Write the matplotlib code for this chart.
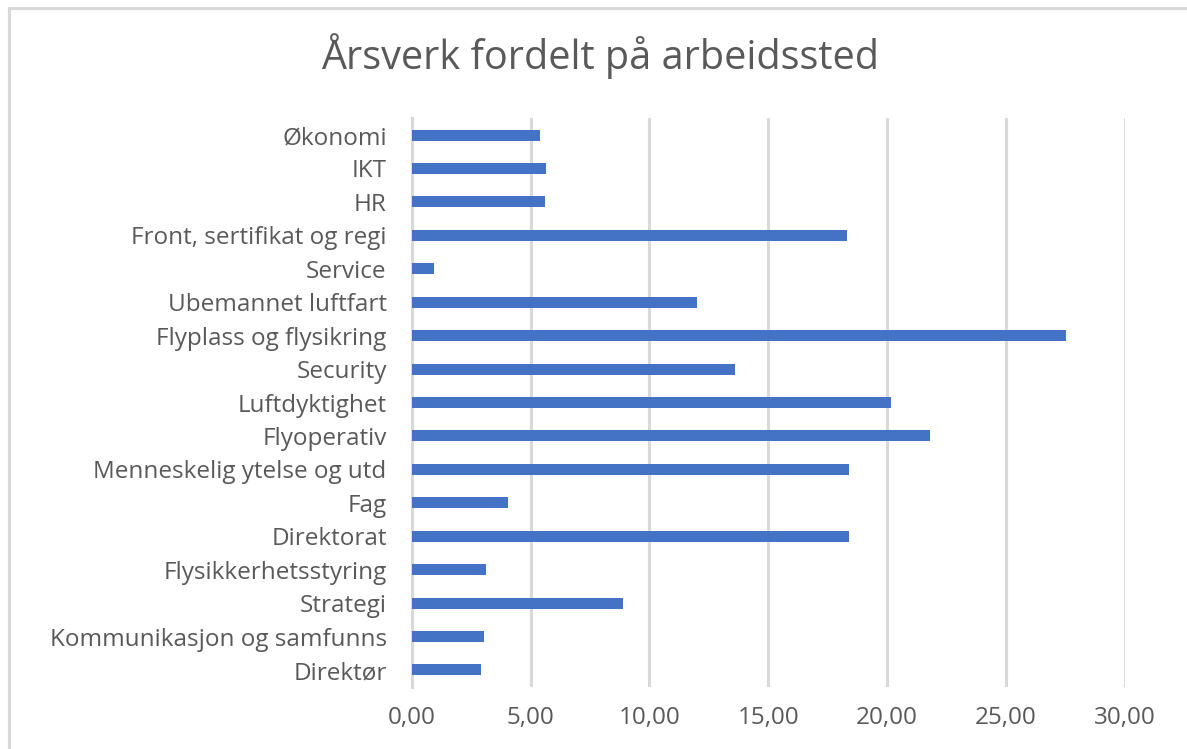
import matplotlib
matplotlib.use("Agg")
import matplotlib.pyplot as plt
from matplotlib.lines import Line2D

categories = [
    "Økonomi", "IKT", "HR", "Front, sertifikat og regi", "Service",
    "Ubemannet luftfart", "Flyplass og flysikring", "Security",
    "Luftdyktighet", "Flyoperativ", "Menneskelig ytelse og utd", "Fag",
    "Direktorat", "Flysikkerhetsstyring", "Strategi",
    "Kommunikasjon og samfunns", "Direktør",
]
values = [5.40, 5.66, 5.59, 18.32, 0.93, 11.99, 27.54, 13.59, 20.15, 21.82,
          18.39, 4.06, 18.39, 3.13, 8.87, 3.06, 2.93]
xticks = [0, 5, 10, 15, 20, 25, 30]
xticklabels = ["0,00", "5,00", "10,00", "15,00", "20,00", "25,00", "30,00"]
title = "Årsverk fordelt på arbeidssted"

plt.rcParams['font.family'] = ['Open Sans', 'DejaVu Sans']
text_color = "#595959"
grid_color = "#d9d9d9"
bar_color = "#4472c4"

W, H = 1187, 749
fig = plt.figure(figsize=(W / 100, H / 100), dpi=100)

ax = fig.add_axes([411.7 / W, 1 - 686.7 / H, (1124.8 - 411.7) / W, (686.7 - 118.3) / H])
ypos = list(range(len(categories)))
ax.barh(ypos, values, height=0.33, color=bar_color, zorder=3)
ax.set_ylim(len(categories) - 0.5, -0.5)
ax.set_xlim(0, 30)
ax.set_yticks(ypos)
ax.set_yticklabels(categories)
ax.set_xticks(xticks)
ax.set_xticklabels(xticklabels)
ax.xaxis.grid(True, color=grid_color, linewidth=2.2, zorder=0)
for s in ["top", "right", "bottom"]:
    ax.spines[s].set_visible(False)
ax.spines["left"].set_color(grid_color)
ax.spines["left"].set_linewidth(2.2)
ax.tick_params(axis="both", length=0, colors=text_color, labelsize=17.5)
ax.tick_params(axis="y", pad=18)
ax.tick_params(axis="x", pad=14)

fig.text(600 / W, 1 - 56 / H, title, ha="center", va="center",
         fontsize=28.5, color=text_color)

# chart border
fig.add_artist(Line2D([8.5 / W, 1], [1 - 8 / H, 1 - 8 / H], color=grid_color, linewidth=2.2,
                      transform=fig.transFigure))
fig.add_artist(Line2D([8.5 / W, 8.5 / W], [0, 1 - 8 / H], color=grid_color, linewidth=2.2,
                      transform=fig.transFigure))

fig.savefig("out.png", dpi=100)
